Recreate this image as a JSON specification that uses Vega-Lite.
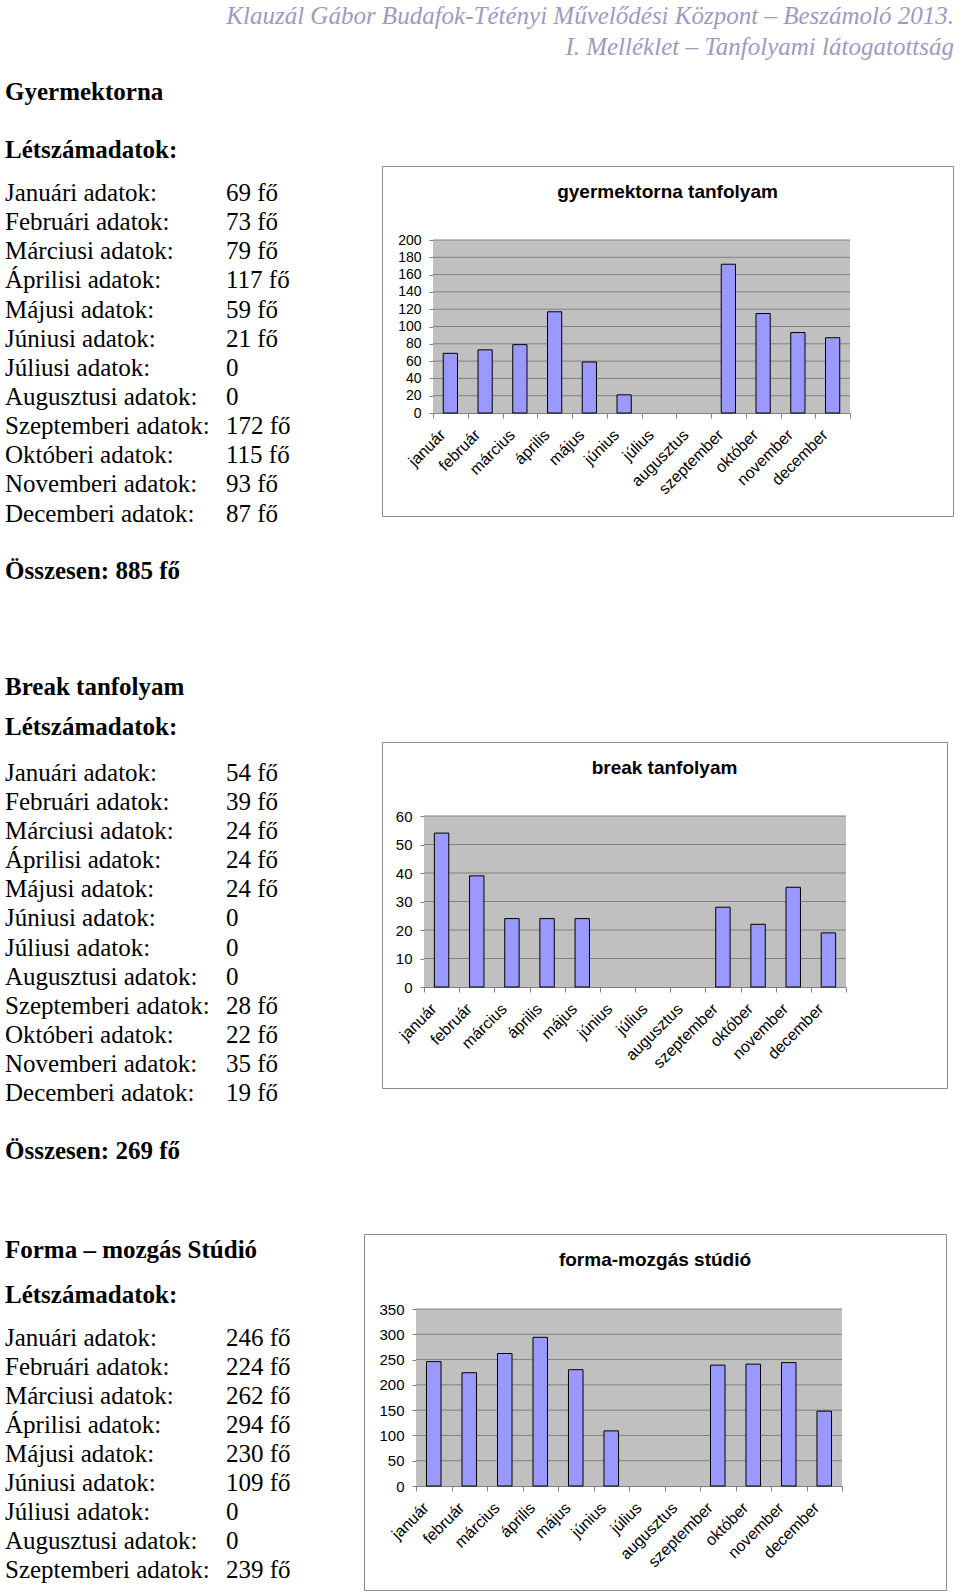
{
  "$schema": "https://vega.github.io/schema/vega-lite/v6.json",
  "padding": 0,
  "background": "white",
  "spacing": 0,
  "config": {
    "view": {"stroke": null},
    "axis": {"domainColor": "#808080", "tickColor": "#808080", "labelColor": "#000000", "labelFont": "Liberation Sans", "labelFontSize": 15, "grid": false, "domainWidth": 1, "tickWidth": 1, "labelOverlap": false, "labelBound": false},
    "axisX": {"labelFontSize": 16, "labelAngle": -45, "labelAlign": "right", "labelBaseline": "middle", "labelOffset": -8, "labelPadding": 14, "tickBand": "extent", "tickSize": 5, "zindex": 1},
    "axisY": {"tickSize": 4, "labelPadding": 8, "zindex": 1},
    "title": {"font": "Liberation Sans", "fontSize": 19, "fontWeight": "bold", "color": "#000000", "anchor": "middle"}
  },
  "datasets": {
    "fejlec": [{"sor": "Klauzál Gábor Budafok-Tétényi Művelődési Központ – Beszámoló 2013."}, {"sor": "I. Melléklet – Tanfolyami látogatottság"}],
    "gy_cim": [{"sor": "Gyermektorna"}, {"sor": "Létszámadatok:"}],
    "gy_tabla": [
      {"ho": 1, "sor": "Januári adatok:", "ertek": "69 fő"},
      {"ho": 2, "sor": "Februári adatok:", "ertek": "73 fő"},
      {"ho": 3, "sor": "Márciusi adatok:", "ertek": "79 fő"},
      {"ho": 4, "sor": "Áprilisi adatok:", "ertek": "117 fő"},
      {"ho": 5, "sor": "Májusi adatok:", "ertek": "59 fő"},
      {"ho": 6, "sor": "Júniusi adatok:", "ertek": "21 fő"},
      {"ho": 7, "sor": "Júliusi adatok:", "ertek": "0"},
      {"ho": 8, "sor": "Augusztusi adatok:", "ertek": "0"},
      {"ho": 9, "sor": "Szeptemberi adatok:", "ertek": "172 fő"},
      {"ho": 10, "sor": "Októberi adatok:", "ertek": "115 fő"},
      {"ho": 11, "sor": "Novemberi adatok:", "ertek": "93 fő"},
      {"ho": 12, "sor": "Decemberi adatok:", "ertek": "87 fő"}
    ],
    "gy_ossz": [{"sor": "Összesen: 885 fő"}],
    "gy": [
      {"honap": "január", "fo": 69}, {"honap": "február", "fo": 73}, {"honap": "március", "fo": 79},
      {"honap": "április", "fo": 117}, {"honap": "május", "fo": 59}, {"honap": "június", "fo": 21},
      {"honap": "július", "fo": 0}, {"honap": "augusztus", "fo": 0}, {"honap": "szeptember", "fo": 172},
      {"honap": "október", "fo": 115}, {"honap": "november", "fo": 93}, {"honap": "december", "fo": 87}
    ],
    "br_cim": [{"sor": "Break tanfolyam"}, {"sor": "Létszámadatok:"}],
    "br_tabla": [
      {"ho": 1, "sor": "Januári adatok:", "ertek": "54 fő"},
      {"ho": 2, "sor": "Februári adatok:", "ertek": "39 fő"},
      {"ho": 3, "sor": "Márciusi adatok:", "ertek": "24 fő"},
      {"ho": 4, "sor": "Áprilisi adatok:", "ertek": "24 fő"},
      {"ho": 5, "sor": "Májusi adatok:", "ertek": "24 fő"},
      {"ho": 6, "sor": "Júniusi adatok:", "ertek": "0"},
      {"ho": 7, "sor": "Júliusi adatok:", "ertek": "0"},
      {"ho": 8, "sor": "Augusztusi adatok:", "ertek": "0"},
      {"ho": 9, "sor": "Szeptemberi adatok:", "ertek": "28 fő"},
      {"ho": 10, "sor": "Októberi adatok:", "ertek": "22 fő"},
      {"ho": 11, "sor": "Novemberi adatok:", "ertek": "35 fő"},
      {"ho": 12, "sor": "Decemberi adatok:", "ertek": "19 fő"}
    ],
    "br_ossz": [{"sor": "Összesen: 269 fő"}],
    "br": [
      {"honap": "január", "fo": 54}, {"honap": "február", "fo": 39}, {"honap": "március", "fo": 24},
      {"honap": "április", "fo": 24}, {"honap": "május", "fo": 24}, {"honap": "június", "fo": 0},
      {"honap": "július", "fo": 0}, {"honap": "augusztus", "fo": 0}, {"honap": "szeptember", "fo": 28},
      {"honap": "október", "fo": 22}, {"honap": "november", "fo": 35}, {"honap": "december", "fo": 19}
    ],
    "fm_cim": [{"sor": "Forma – mozgás Stúdió"}, {"sor": "Létszámadatok:"}],
    "fm_tabla": [
      {"ho": 1, "sor": "Januári adatok:", "ertek": "246 fő"},
      {"ho": 2, "sor": "Februári adatok:", "ertek": "224 fő"},
      {"ho": 3, "sor": "Márciusi adatok:", "ertek": "262 fő"},
      {"ho": 4, "sor": "Áprilisi adatok:", "ertek": "294 fő"},
      {"ho": 5, "sor": "Májusi adatok:", "ertek": "230 fő"},
      {"ho": 6, "sor": "Júniusi adatok:", "ertek": "109 fő"},
      {"ho": 7, "sor": "Júliusi adatok:", "ertek": "0"},
      {"ho": 8, "sor": "Augusztusi adatok:", "ertek": "0"},
      {"ho": 9, "sor": "Szeptemberi adatok:", "ertek": "239 fő"}
    ],
    "fm": [
      {"honap": "január", "fo": 246}, {"honap": "február", "fo": 224}, {"honap": "március", "fo": 262},
      {"honap": "április", "fo": 294}, {"honap": "május", "fo": 230}, {"honap": "június", "fo": 109},
      {"honap": "július", "fo": 0}, {"honap": "augusztus", "fo": 0}, {"honap": "szeptember", "fo": 239},
      {"honap": "október", "fo": 241}, {"honap": "november", "fo": 244}, {"honap": "december", "fo": 148}
    ]
  },
  "vconcat": [
    {
      "width": 960, "height": 62,
      "data": {"name": "fejlec"},
      "mark": {"type": "text", "align": "right", "baseline": "middle", "font": "Liberation Serif", "fontStyle": "italic", "fontSize": 25, "color": "#a09abe"},
      "encoding": {
        "x": {"datum": "h", "type": "nominal", "scale": {"type": "point", "domain": ["h"], "padding": 0, "align": 0.99375}, "axis": null},
        "y": {"field": "sor", "type": "nominal", "sort": null, "scale": {"type": "point", "padding": 0.5, "align": 0.516}, "axis": null},
        "text": {"field": "sor"}
      }
    },
    {
      "width": 381, "height": 103,
      "data": {"name": "gy_cim"},
      "mark": {"type": "text", "align": "left", "baseline": "middle", "font": "Liberation Serif", "fontWeight": "bold", "fontSize": 25, "color": "#000000"},
      "encoding": {
        "x": {"datum": "c", "type": "nominal", "scale": {"type": "point", "domain": ["c", "e"], "padding": 0.362, "align": 0.03125}, "axis": null},
        "y": {"field": "sor", "type": "nominal", "sort": null, "scale": {"type": "point", "padding": 0.388, "align": 0.667}, "axis": null},
        "text": {"field": "sor"}
      }
    },
    {
      "spacing": 0,
      "hconcat": [
        {
          "width": 375, "height": 455,
          "resolve": {"scale": {"y": "independent"}},
          "layer": [
            {
              "data": {"name": "gy_tabla"},
              "mark": {"type": "text", "align": "left", "baseline": "middle", "font": "Liberation Serif", "fontSize": 25, "color": "#000000"},
              "encoding": {
                "x": {"datum": "c", "type": "nominal", "scale": {"type": "point", "domain": ["c", "e"], "padding": 0.3484, "align": 0.03247}, "axis": null},
                "y": {"field": "ho", "type": "quantitative", "scale": {"domain": [0.07376, 15.6827], "reverse": true, "nice": false, "zero": false}, "axis": null},
                "text": {"field": "sor"}
              }
            },
            {
              "data": {"name": "gy_tabla"},
              "mark": {"type": "text", "align": "left", "baseline": "middle", "font": "Liberation Serif", "fontSize": 25, "color": "#000000"},
              "encoding": {
                "x": {"datum": "e", "type": "nominal", "scale": {"type": "point", "domain": ["c", "e"], "padding": 0.3484, "align": 0.03247}, "axis": null},
                "y": {"field": "ho", "type": "quantitative", "scale": {"domain": [0.07376, 15.6827], "reverse": true, "nice": false, "zero": false}, "axis": null},
                "text": {"field": "ertek"}
              }
            },
            {
              "data": {"name": "gy_ossz"},
              "mark": {"type": "text", "align": "left", "baseline": "middle", "font": "Liberation Serif", "fontWeight": "bold", "fontSize": 25, "color": "#000000"},
              "encoding": {
                "x": {"datum": "c", "type": "nominal", "scale": {"type": "point", "domain": ["c", "e"], "padding": 0.3484, "align": 0.03247}, "axis": null},
                "y": {"field": "sor", "type": "nominal", "scale": {"type": "point", "padding": 0, "align": 0.8901}, "axis": null},
                "text": {"field": "sor"}
              }
            }
          ]
        },
        {
          "width": 571, "height": 350,
          "view": {"stroke": "#8c8c8c", "strokeWidth": 1},
          "title": {"text": "gyermektorna tanfolyam", "offset": -36},
          "layer": [
            {
              "data": {"values": [{}]},
              "mark": {"type": "rect", "fill": "#c0c0c0"},
              "encoding": {
                "x": {"datum": "január", "type": "nominal", "bandPosition": 0, "scale": {"type": "band", "domain": ["január","február","március","április","május","június","július","augusztus","szeptember","október","november","december"], "range": [51, 468], "paddingInner": 0, "paddingOuter": 0},
                  "axis": {"orient": "bottom", "title": null, "offset": -103}},
                "x2": {"datum": "december", "bandPosition": 1},
                "y": {"datum": 0, "type": "quantitative", "scale": {"domain": [0, 200], "range": [247, 74], "nice": false, "zero": false},
                  "axis": {"orient": "left", "title": null, "offset": -51, "values": [0, 20, 40, 60, 80, 100, 120, 140, 160, 180, 200], "labelFontSize": 14}},
                "y2": {"datum": 200}
              }
            },
            {
              "data": {"values": [{"v": 20}, {"v": 40}, {"v": 60}, {"v": 80}, {"v": 100}, {"v": 120}, {"v": 140}, {"v": 160}, {"v": 180}, {"v": 200}]},
              "mark": {"type": "rule", "color": "#808080", "strokeWidth": 1},
              "encoding": {
                "x": {"datum": "január", "type": "nominal", "bandPosition": 0, "scale": {"type": "band", "domain": ["január","február","március","április","május","június","július","augusztus","szeptember","október","november","december"], "range": [51, 468], "paddingInner": 0, "paddingOuter": 0},
                  "axis": {"orient": "bottom", "title": null, "offset": -103}},
                "x2": {"datum": "december", "bandPosition": 1},
                "y": {"field": "v", "type": "quantitative", "scale": {"domain": [0, 200], "range": [247, 74], "nice": false, "zero": false},
                  "axis": {"orient": "left", "title": null, "offset": -51, "values": [0, 20, 40, 60, 80, 100, 120, 140, 160, 180, 200], "labelFontSize": 14}}
              }
            },
            {
              "data": {"name": "gy"},
              "transform": [{"filter": "datum.fo > 0"}],
              "mark": {"type": "bar", "fill": "#9999ff", "stroke": "#000000", "strokeWidth": 1, "width": {"band": 0.41}},
              "encoding": {
                "x": {"field": "honap", "type": "nominal", "sort": null, "scale": {"type": "band", "domain": ["január","február","március","április","május","június","július","augusztus","szeptember","október","november","december"], "range": [51, 468], "paddingInner": 0, "paddingOuter": 0},
                  "axis": {"orient": "bottom", "title": null, "offset": -103}},
                "y": {"field": "fo", "type": "quantitative", "scale": {"domain": [0, 200], "range": [247, 74], "nice": false, "zero": false},
                  "axis": {"orient": "left", "title": null, "offset": -51, "values": [0, 20, 40, 60, 80, 100, 120, 140, 160, 180, 200], "labelFontSize": 14}}
              }
            }
          ]
        }
      ]
    },
    {
      "width": 381, "height": 118.5,
      "data": {"name": "br_cim"},
      "mark": {"type": "text", "align": "left", "baseline": "middle", "font": "Liberation Serif", "fontWeight": "bold", "fontSize": 25, "color": "#000000"},
      "encoding": {
        "x": {"datum": "c", "type": "nominal", "scale": {"type": "point", "domain": ["c", "e"], "padding": 0.362, "align": 0.03125}, "axis": null},
        "y": {"field": "sor", "type": "nominal", "sort": null, "scale": {"type": "point", "padding": 0.996, "align": 0.8416}, "axis": null},
        "text": {"field": "sor"}
      }
    },
    {
      "spacing": 0,
      "hconcat": [
        {
          "width": 375, "height": 491,
          "resolve": {"scale": {"y": "independent"}},
          "layer": [
            {
              "data": {"name": "br_tabla"},
              "mark": {"type": "text", "align": "left", "baseline": "middle", "font": "Liberation Serif", "fontSize": 25, "color": "#000000"},
              "encoding": {
                "x": {"datum": "c", "type": "nominal", "scale": {"type": "point", "domain": ["c", "e"], "padding": 0.3484, "align": 0.03247}, "axis": null},
                "y": {"field": "ho", "type": "quantitative", "scale": {"domain": [-0.0778, 16.830], "reverse": true, "nice": false, "zero": false}, "axis": null},
                "text": {"field": "sor"}
              }
            },
            {
              "data": {"name": "br_tabla"},
              "mark": {"type": "text", "align": "left", "baseline": "middle", "font": "Liberation Serif", "fontSize": 25, "color": "#000000"},
              "encoding": {
                "x": {"datum": "e", "type": "nominal", "scale": {"type": "point", "domain": ["c", "e"], "padding": 0.3484, "align": 0.03247}, "axis": null},
                "y": {"field": "ho", "type": "quantitative", "scale": {"domain": [-0.0778, 16.830], "reverse": true, "nice": false, "zero": false}, "axis": null},
                "text": {"field": "ertek"}
              }
            },
            {
              "data": {"name": "br_ossz"},
              "mark": {"type": "text", "align": "left", "baseline": "middle", "font": "Liberation Serif", "fontWeight": "bold", "fontSize": 25, "color": "#000000"},
              "encoding": {
                "x": {"datum": "c", "type": "nominal", "scale": {"type": "point", "domain": ["c", "e"], "padding": 0.3484, "align": 0.03247}, "axis": null},
                "y": {"field": "sor", "type": "nominal", "scale": {"type": "point", "padding": 0, "align": 0.8322}, "axis": null},
                "text": {"field": "sor"}
              }
            }
          ]
        },
        {
          "width": 565, "height": 346,
          "view": {"stroke": "#8c8c8c", "strokeWidth": 1},
          "title": {"text": "break tanfolyam", "offset": -36},
          "layer": [
            {
              "data": {"values": [{}]},
              "mark": {"type": "rect", "fill": "#c0c0c0"},
              "encoding": {
                "x": {"datum": "január", "type": "nominal", "bandPosition": 0, "scale": {"type": "band", "domain": ["január","február","március","április","május","június","július","augusztus","szeptember","október","november","december"], "range": [42, 464], "paddingInner": 0, "paddingOuter": 0},
                  "axis": {"orient": "bottom", "title": null, "offset": -101}},
                "x2": {"datum": "december", "bandPosition": 1},
                "y": {"datum": 0, "type": "quantitative", "scale": {"domain": [0, 60], "range": [245, 74], "nice": false, "zero": false},
                  "axis": {"orient": "left", "title": null, "offset": -42, "values": [0, 10, 20, 30, 40, 50, 60]}},
                "y2": {"datum": 60}
              }
            },
            {
              "data": {"values": [{"v": 10}, {"v": 20}, {"v": 30}, {"v": 40}, {"v": 50}, {"v": 60}]},
              "mark": {"type": "rule", "color": "#808080", "strokeWidth": 1},
              "encoding": {
                "x": {"datum": "január", "type": "nominal", "bandPosition": 0, "scale": {"type": "band", "domain": ["január","február","március","április","május","június","július","augusztus","szeptember","október","november","december"], "range": [42, 464], "paddingInner": 0, "paddingOuter": 0},
                  "axis": {"orient": "bottom", "title": null, "offset": -101}},
                "x2": {"datum": "december", "bandPosition": 1},
                "y": {"field": "v", "type": "quantitative", "scale": {"domain": [0, 60], "range": [245, 74], "nice": false, "zero": false},
                  "axis": {"orient": "left", "title": null, "offset": -42, "values": [0, 10, 20, 30, 40, 50, 60]}}
              }
            },
            {
              "data": {"name": "br"},
              "transform": [{"filter": "datum.fo > 0"}],
              "mark": {"type": "bar", "fill": "#9999ff", "stroke": "#000000", "strokeWidth": 1, "width": {"band": 0.41}},
              "encoding": {
                "x": {"field": "honap", "type": "nominal", "sort": null, "scale": {"type": "band", "domain": ["január","február","március","április","május","június","július","augusztus","szeptember","október","november","december"], "range": [42, 464], "paddingInner": 0, "paddingOuter": 0},
                  "axis": {"orient": "bottom", "title": null, "offset": -101}},
                "y": {"field": "fo", "type": "quantitative", "scale": {"domain": [0, 60], "range": [245, 74], "nice": false, "zero": false},
                  "axis": {"orient": "left", "title": null, "offset": -42, "values": [0, 10, 20, 30, 40, 50, 60]}}
              }
            }
          ]
        }
      ]
    },
    {
      "spacing": 0,
      "hconcat": [
        {
          "spacing": 0,
          "vconcat": [
            {
              "width": 357, "height": 82,
              "data": {"name": "fm_cim"},
              "mark": {"type": "text", "align": "left", "baseline": "middle", "font": "Liberation Serif", "fontWeight": "bold", "fontSize": 25, "color": "#000000"},
              "encoding": {
                "x": {"datum": "c", "type": "nominal", "scale": {"type": "point", "domain": ["c", "e"], "padding": 0.3077, "align": 0.03676}, "axis": null},
                "y": {"field": "sor", "type": "nominal", "sort": null, "scale": {"type": "point", "padding": 0.417, "align": 0.437}, "axis": null},
                "text": {"field": "sor"}
              }
            },
            {
              "width": 357, "height": 274,
              "layer": [
                {
                  "data": {"name": "fm_tabla"},
                  "mark": {"type": "text", "align": "left", "baseline": "middle", "font": "Liberation Serif", "fontSize": 25, "color": "#000000"},
                  "encoding": {
                    "x": {"datum": "c", "type": "nominal", "scale": {"type": "point", "domain": ["c", "e"], "padding": 0.3077, "align": 0.03676}, "axis": null},
                    "y": {"field": "ho", "type": "quantitative", "scale": {"domain": [0.2515, 9.703], "reverse": true, "nice": false, "zero": false}, "axis": null},
                    "text": {"field": "sor"}
                  }
                },
                {
                  "data": {"name": "fm_tabla"},
                  "mark": {"type": "text", "align": "left", "baseline": "middle", "font": "Liberation Serif", "fontSize": 25, "color": "#000000"},
                  "encoding": {
                    "x": {"datum": "e", "type": "nominal", "scale": {"type": "point", "domain": ["c", "e"], "padding": 0.3077, "align": 0.03676}, "axis": null},
                    "y": {"field": "ho", "type": "quantitative", "scale": {"domain": [0.2515, 9.703], "reverse": true, "nice": false, "zero": false}, "axis": null},
                    "text": {"field": "ertek"}
                  }
                }
              ]
            }
          ]
        },
        {
          "width": 582, "height": 356,
          "view": {"stroke": "#8c8c8c", "strokeWidth": 1},
          "title": {"text": "forma-mozgás stúdió", "offset": -36},
          "layer": [
            {
              "data": {"values": [{}]},
              "mark": {"type": "rect", "fill": "#c0c0c0"},
              "encoding": {
                "x": {"datum": "január", "type": "nominal", "bandPosition": 0, "scale": {"type": "band", "domain": ["január","február","március","április","május","június","július","augusztus","szeptember","október","november","december"], "range": [52, 478], "paddingInner": 0, "paddingOuter": 0},
                  "axis": {"orient": "bottom", "title": null, "offset": -104}},
                "x2": {"datum": "december", "bandPosition": 1},
                "y": {"datum": 0, "type": "quantitative", "scale": {"domain": [0, 350], "range": [252, 75], "nice": false, "zero": false},
                  "axis": {"orient": "left", "title": null, "offset": -52, "values": [0, 50, 100, 150, 200, 250, 300, 350]}},
                "y2": {"datum": 350}
              }
            },
            {
              "data": {"values": [{"v": 50}, {"v": 100}, {"v": 150}, {"v": 200}, {"v": 250}, {"v": 300}, {"v": 350}]},
              "mark": {"type": "rule", "color": "#808080", "strokeWidth": 1},
              "encoding": {
                "x": {"datum": "január", "type": "nominal", "bandPosition": 0, "scale": {"type": "band", "domain": ["január","február","március","április","május","június","július","augusztus","szeptember","október","november","december"], "range": [52, 478], "paddingInner": 0, "paddingOuter": 0},
                  "axis": {"orient": "bottom", "title": null, "offset": -104}},
                "x2": {"datum": "december", "bandPosition": 1},
                "y": {"field": "v", "type": "quantitative", "scale": {"domain": [0, 350], "range": [252, 75], "nice": false, "zero": false},
                  "axis": {"orient": "left", "title": null, "offset": -52, "values": [0, 50, 100, 150, 200, 250, 300, 350]}}
              }
            },
            {
              "data": {"name": "fm"},
              "transform": [{"filter": "datum.fo > 0"}],
              "mark": {"type": "bar", "fill": "#9999ff", "stroke": "#000000", "strokeWidth": 1, "width": {"band": 0.41}},
              "encoding": {
                "x": {"field": "honap", "type": "nominal", "sort": null, "scale": {"type": "band", "domain": ["január","február","március","április","május","június","július","augusztus","szeptember","október","november","december"], "range": [52, 478], "paddingInner": 0, "paddingOuter": 0},
                  "axis": {"orient": "bottom", "title": null, "offset": -104}},
                "y": {"field": "fo", "type": "quantitative", "scale": {"domain": [0, 350], "range": [252, 75], "nice": false, "zero": false},
                  "axis": {"orient": "left", "title": null, "offset": -52, "values": [0, 50, 100, 150, 200, 250, 300, 350]}}
              }
            }
          ]
        }
      ]
    }
  ]
}
